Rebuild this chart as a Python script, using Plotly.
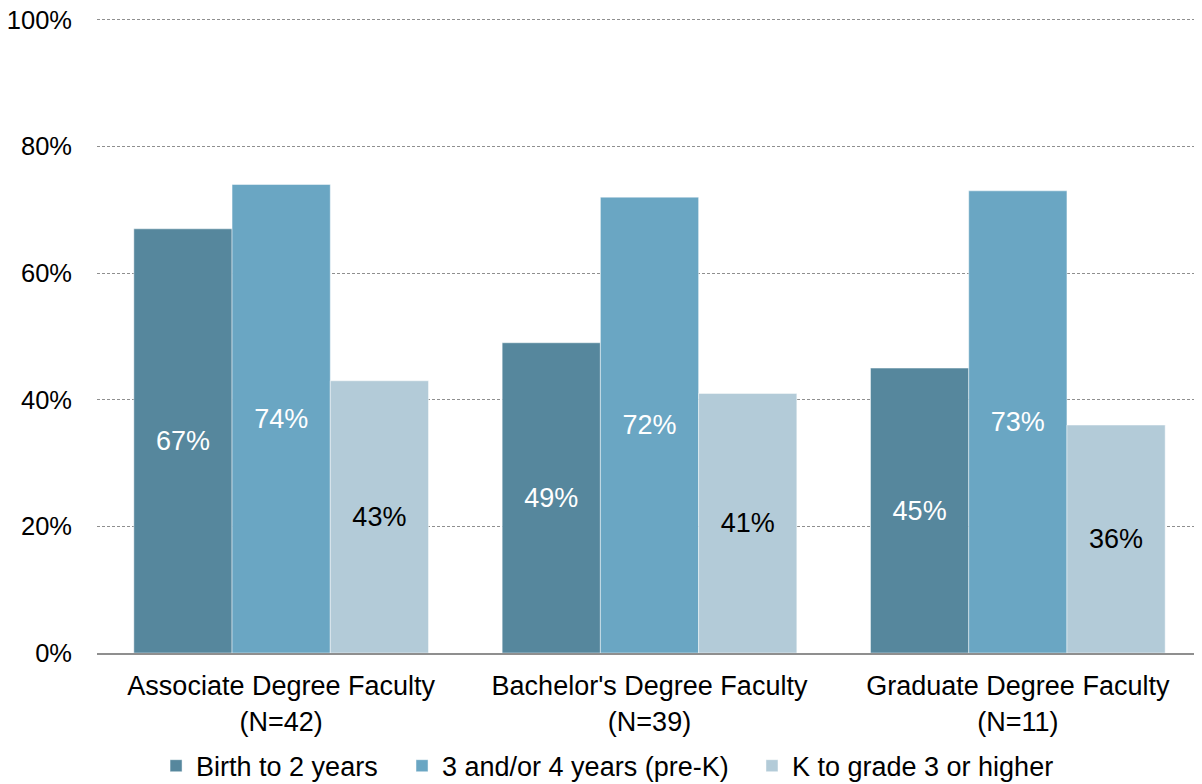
import plotly.graph_objects as go

categories = ["Associate Degree Faculty<br>(N=42)", "Bachelor's Degree Faculty<br>(N=39)", "Graduate Degree Faculty<br>(N=11)"]
series_names = ["Birth to 2 years", "3 and/or 4 years (pre-K)", "K to grade 3 or higher"]
birth_to_2 = [67, 49, 45]
pre_k = [74, 72, 73]
k_to_3 = [43, 41, 36]
y_ticks = [0, 20, 40, 60, 80, 100]
y_tick_labels = ["0%", "20%", "40%", "60%", "80%", "100%"]

colors = ["#56879D", "#6AA6C3", "#B3CBD8"]
text_colors = ["white", "white", "black"]
values = [birth_to_2, pre_k, k_to_3]
legend_ids = ["legend", "legend2", "legend3"]
legend_x = [0.1240, 0.3300, 0.6231]
FONT = "Liberation Sans, Arial, sans-serif"

fig = go.Figure()
for name, vals, c, tc, lg in zip(series_names, values, colors, text_colors, legend_ids):
    fig.add_trace(go.Bar(
        x=categories, y=vals, name=name, legend=lg,
        marker=dict(color=c, line=dict(color="rgba(255,255,255,0.45)", width=1)),
        text=[f"{v}%" for v in vals],
        textposition="inside", insidetextanchor="middle",
        textfont=dict(color=tc, size=27, family=FONT),
        textangle=0,
    ))

legend_common = dict(orientation="h", xref="container", yref="container",
                     xanchor="left", y=0.023, yanchor="middle",
                     font=dict(size=27, family=FONT, color="black"),
                     bgcolor="rgba(0,0,0,0)", borderwidth=0)

fig.update_layout(
    barmode="group", bargap=0.2, bargroupgap=0,
    width=1194, height=776,
    margin=dict(l=89, r=0, t=10, b=131),
    plot_bgcolor="white", paper_bgcolor="white",
    font=dict(family=FONT, size=27, color="black"),
    showlegend=True,
    legend=dict(x=legend_x[0], **legend_common),
    legend2=dict(x=legend_x[1], **legend_common),
    legend3=dict(x=legend_x[2], **legend_common),
    uniformtext=dict(mode=False),
)
fig.update_yaxes(range=[0, 100.3], tickvals=y_ticks, ticktext=y_tick_labels,
                 showgrid=True, gridcolor="#8f8f8f", griddash="3px,2px", gridwidth=1,
                 zeroline=False, showline=False, ticks="", ticklabelstandoff=24,
                 ticklabeloverflow="allow",
                 tickfont=dict(size=25.5), automargin=False)
fig.update_xaxes(showline=True, linecolor="#8f8f8f", linewidth=2, ticks="",
                 ticklabelstandoff=8,
                 tickfont=dict(size=27), automargin=False)

fig.write_html("out.html")
